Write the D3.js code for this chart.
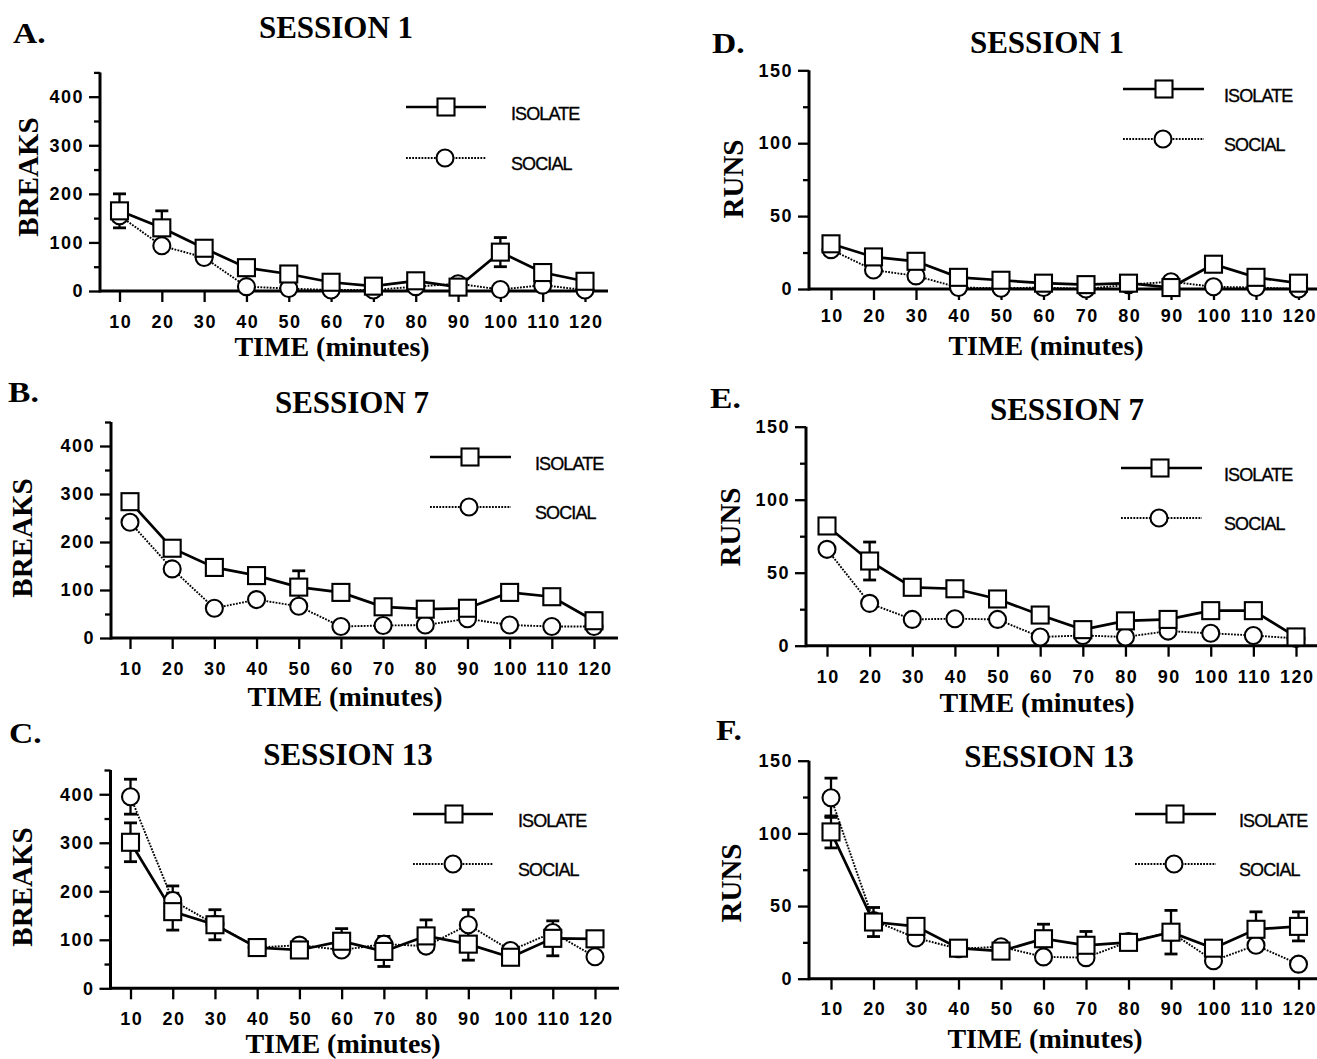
<!DOCTYPE html>
<html><head><meta charset="utf-8">
<script src="https://cdn.jsdelivr.net/npm/d3@7"></script>
<style>
html,body{margin:0;padding:0;background:#fff;}
svg{display:block;}
.serif{font-family:"Liberation Serif","Times New Roman",serif;font-weight:bold;fill:#000;}
.tick text{font-family:"Liberation Sans",Arial,sans-serif;font-weight:bold;font-size:18px;letter-spacing:1.5px;fill:#000;}
.leg{font-family:"Liberation Sans",Arial,sans-serif;font-size:18px;letter-spacing:-0.9px;fill:#000;stroke:#000;stroke-width:0.35px;}
</style></head>
<body>
<svg id="c" width="1317" height="1059"></svg>
<script>
// ---- data ----
const xTicks = [10,20,30,40,50,60,70,80,90,100,110,120];
const breaksTicks = [0,100,200,300,400];
const breaksMinor = [50,150,250,350,450];
const runsTicks = [0,50,100,150];
const runsMinor = [25,75,125];
const seriesNames = ["ISOLATE","SOCIAL"];

// Panel A: breaks, session 1
const isoA = [165,130,88,48,35,18,10,21,8,80,38,20];
const socA = [155,93,69,9,5,2,2,9,15,3,12,2];
const isoASE = [35,35,0,0,0,0,0,0,0,30,0,0];
const socASE = [0,0,0,0,0,0,0,0,0,0,0,0];
// Panel B: breaks, session 7
const isoB = [284,187,147,130,106,95,65,60,62,95,86,36];
const socB = [241,144,62,80,66,24,26,27,40,27,24,24];
const isoBSE = [0,0,0,0,34,0,0,0,0,0,0,0];
const socBSE = [0,0,0,0,0,0,0,0,0,0,0,0];
// Panel C: breaks, session 13
const isoC = [301,158,131,84,79,97,76,108,91,64,103,102];
const socC = [395,181,132,84,89,79,91,87,131,78,115,65];
const isoCSE = [40,38,31,0,0,26,31,33,33,0,36,0];
const socCSE = [36,30,0,0,0,0,0,0,31,0,0,0];
// Panel D: runs, session 1
const isoD = [31,22,19,8,6,4,3,4,1,17,8,4];
const socD = [27,13,9,1,0.5,1,0,3,5,1.5,1,0];
const isoDSE = [0,0,0,0,0,0,0,0,0,0,0,0];
const socDSE = [0,0,0,0,0,0,0,0,0,0,0,0];
// Panel E: runs, session 7
const isoE = [82,58,40,39,32,21,11,17,18,24,24,6];
const socE = [66,29,18,18.5,18,6,7,6,10,8.5,7,5];
const isoESE = [0,13,0,0,0,0,0,0,0,0,0,0];
const socESE = [0,0,0,0,0,0,0,0,0,0,0,0];
// Panel F: runs, session 13
const isoF = [101,39,36,21,19,27.5,23,25,32,21,34,36];
const socF = [124.5,40,28,20.6,22,15,14.5,25.5,32,12.4,23,10];
const isoFSE = [11,10,0,0,0,10,9.5,0,15,0,12,10];
const socFSE = [13.5,0,0,0,0,0,0,0,0,0,0,0];

// ---- layout ----
const panels = [
 {label:"A.", title:"SESSION 1", yTitle:"BREAKS", iso:isoA, soc:socA, isoSE:isoASE, socSE:socASE, ticks:breaksTicks, minor:breaksMinor, yMax:450,
  lx:13, ly:43, tx:336, ty:38, ytx:38, yty:177, axisX:100, axisEnd:608, c10:119.5, c120:585, y0:291, yTop:72.4, xly:328, xtx:332, xty:356,
  legX1:406, legX2:486, legMX:446, legIsoY:107, legSocY:158, legTX:511},
 {label:"B.", title:"SESSION 7", yTitle:"BREAKS", iso:isoB, soc:socB, isoSE:isoBSE, socSE:socBSE, ticks:breaksTicks, minor:breaksMinor, yMax:450,
  lx:8, ly:402, tx:352, ty:413, ytx:32, yty:538, axisX:111, axisEnd:618, c10:130, c120:594, y0:638, yTop:422, xly:675, xtx:345, xty:706,
  legX1:430, legX2:511, legMX:470, legIsoY:457, legSocY:507, legTX:535},
 {label:"C.", title:"SESSION 13", yTitle:"BREAKS", iso:isoC, soc:socC, isoSE:isoCSE, socSE:socCSE, ticks:breaksTicks, minor:breaksMinor, yMax:450,
  lx:9, ly:743, tx:348, ty:765, ytx:32, yty:887, axisX:110.5, axisEnd:619, c10:130.5, c120:595, y0:988.3, yTop:770, xly:1025, xtx:343, xty:1053,
  legX1:413, legX2:493, legMX:454, legIsoY:814, legSocY:864, legTX:518},
 {label:"D.", title:"SESSION 1", yTitle:"RUNS", iso:isoD, soc:socD, isoSE:isoDSE, socSE:socDSE, ticks:runsTicks, minor:runsMinor, yMax:150,
  lx:712, ly:53, tx:1047, ty:53, ytx:743, yty:179, axisX:809, axisEnd:1317, c10:831, c120:1298.5, y0:289, yTop:70.3, xly:322, xtx:1046, xty:355,
  legX1:1123, legX2:1204, legMX:1164, legIsoY:89, legSocY:139, legTX:1224},
 {label:"E.", title:"SESSION 7", yTitle:"RUNS", iso:isoE, soc:socE, isoSE:isoESE, socSE:socESE, ticks:runsTicks, minor:runsMinor, yMax:150,
  lx:710, ly:408, tx:1067, ty:420, ytx:740, yty:527, axisX:806, axisEnd:1317, c10:827, c120:1296, y0:645.7, yTop:426.7, xly:683, xtx:1037, xty:712,
  legX1:1121, legX2:1202, legMX:1160, legIsoY:468, legSocY:518, legTX:1224},
 {label:"F.", title:"SESSION 13", yTitle:"RUNS", iso:isoF, soc:socF, isoSE:isoFSE, socSE:socFSE, ticks:runsTicks, minor:runsMinor, yMax:150,
  lx:716, ly:740, tx:1049, ty:767, ytx:741, yty:883, axisX:809, axisEnd:1317, c10:831, c120:1298.5, y0:978.7, yTop:760.7, xly:1015, xtx:1045, xty:1048,
  legX1:1135, legX2:1216, legMX:1175, legIsoY:814, legSocY:864, legTX:1239}
];

const svg = d3.select("#c");
const SQ = 17, CR = 8.5;

panels.forEach(p => {
  const g = svg.append("g");
  const x = d3.scaleLinear().domain([10,120]).range([p.c10, p.c120]);
  const y = d3.scaleLinear().domain([0,p.yMax]).range([p.y0, p.yTop]);

  // labels
  g.append("text").attr("class","serif").attr("font-size",30)
    .attr("transform",`translate(${p.lx},${p.ly}) scale(1.12,1)`).text(p.label);
  g.append("text").attr("class","serif").attr("x",p.tx).attr("y",p.ty).attr("font-size",31).attr("text-anchor","middle").text(p.title);
  g.append("text").attr("class","serif").attr("font-size",29).attr("text-anchor","middle")
    .attr("transform",`translate(${p.ytx},${p.yty}) rotate(-90)`).text(p.yTitle);
  g.append("text").attr("class","serif").attr("x",p.xtx).attr("y",p.xty).attr("font-size",28).attr("text-anchor","middle").text("TIME (minutes)");

  // x axis
  const xa = g.append("g").attr("transform",`translate(0,${p.y0})`)
    .call(d3.axisBottom(x).tickValues(xTicks).tickSize(11).tickPadding(0).tickSizeOuter(0));
  xa.select(".domain").remove();
  xa.selectAll(".tick line").attr("stroke","#000").attr("stroke-width",2.3);
  xa.selectAll(".tick text").attr("y", p.xly - p.y0).attr("dy",null).attr("dx",0.75);
  g.append("line").attr("x1",p.axisX).attr("x2",p.axisEnd).attr("y1",p.y0).attr("y2",p.y0)
    .attr("stroke","#000").attr("stroke-width",3);

  // y axis
  const ya = g.append("g").attr("transform",`translate(${p.axisX},0)`)
    .call(d3.axisLeft(y).tickValues(p.ticks).tickSize(11).tickPadding(5).tickSizeOuter(0));
  ya.select(".domain").remove();
  ya.selectAll(".tick line").attr("stroke","#000").attr("stroke-width",2.3);
  g.append("g").attr("transform",`translate(${p.axisX},0)`)
    .call(d3.axisLeft(y).tickValues(p.minor).tickSize(6).tickFormat(""))
    .call(s => { s.select(".domain").remove(); s.selectAll(".tick line").attr("stroke","#000").attr("stroke-width",2.3); });
  g.append("line").attr("x1",p.axisX).attr("x2",p.axisX).attr("y1",p.y0+1.5).attr("y2",y(p.yMax))
    .attr("stroke","#000").attr("stroke-width",3);

  // lines
  const line = d3.line().x((d,i)=>x(xTicks[i])).y(d=>y(d));
  g.append("path").datum(p.soc).attr("d",line).attr("fill","none").attr("stroke","#000")
    .attr("stroke-width",1.9).attr("stroke-dasharray","1.8,1.3");
  g.append("path").datum(p.iso).attr("d",line).attr("fill","none").attr("stroke","#000").attr("stroke-width",2.7);

  // error bars
  [[p.iso,p.isoSE],[p.soc,p.socSE]].forEach(([vals,se]) => {
    vals.forEach((v,i) => {
      if (!se[i]) return;
      const cx = x(xTicks[i]);
      [v+se[i], v-se[i]].forEach(e => {
        g.append("line").attr("x1",cx).attr("x2",cx).attr("y1",y(v)).attr("y2",y(e)).attr("stroke","#000").attr("stroke-width",2.3);
        g.append("line").attr("x1",cx-6.5).attr("x2",cx+6.5).attr("y1",y(e)).attr("y2",y(e)).attr("stroke","#000").attr("stroke-width",2.8);
      });
    });
  });

  // markers
  g.selectAll(".soc").data(p.soc).enter().append("circle")
    .attr("cx",(d,i)=>x(xTicks[i])).attr("cy",d=>y(d)).attr("r",CR)
    .attr("fill","#fff").attr("stroke","#000").attr("stroke-width",2.1);
  g.selectAll(".iso").data(p.iso).enter().append("rect")
    .attr("x",(d,i)=>x(xTicks[i])-SQ/2).attr("y",d=>y(d)-SQ/2).attr("width",SQ).attr("height",SQ)
    .attr("fill","#fff").attr("stroke","#000").attr("stroke-width",2.1);

  // legend
  g.append("line").attr("x1",p.legX1).attr("x2",p.legX2).attr("y1",p.legIsoY).attr("y2",p.legIsoY).attr("stroke","#000").attr("stroke-width",2.7);
  g.append("rect").attr("x",p.legMX-SQ/2).attr("y",p.legIsoY-SQ/2).attr("width",SQ).attr("height",SQ)
    .attr("fill","#fff").attr("stroke","#000").attr("stroke-width",2.1);
  g.append("text").attr("class","leg").attr("x",p.legTX).attr("y",p.legIsoY+13).text(seriesNames[0]);
  g.append("line").attr("x1",p.legX1).attr("x2",p.legX2).attr("y1",p.legSocY).attr("y2",p.legSocY).attr("stroke","#000")
    .attr("stroke-width",1.9).attr("stroke-dasharray","1.8,1.3");
  g.append("circle").attr("cx",p.legMX-1).attr("cy",p.legSocY).attr("r",CR)
    .attr("fill","#fff").attr("stroke","#000").attr("stroke-width",2.1);
  g.append("text").attr("class","leg").attr("x",p.legTX).attr("y",p.legSocY+12).text(seriesNames[1]);
});
</script>
</body></html>
